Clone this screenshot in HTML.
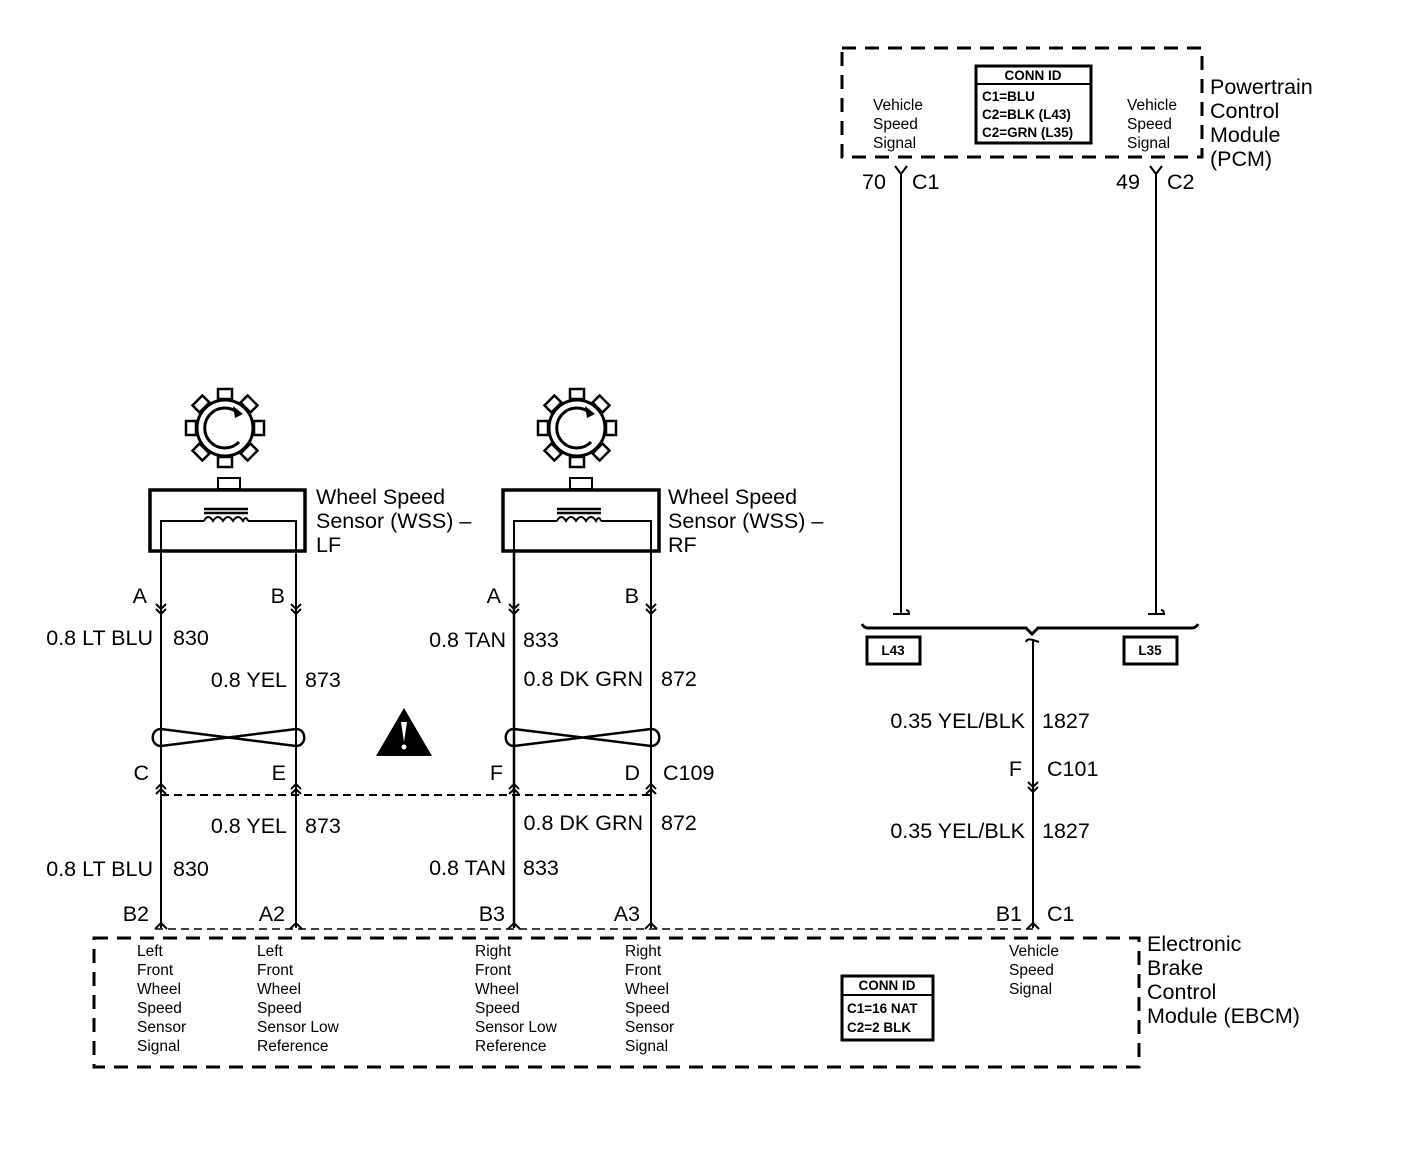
<!DOCTYPE html>
<html><head><style>
body{margin:0;background:#fff;}
svg{display:block;}
text{font-family:"Liberation Sans",Arial,sans-serif;fill:#000;}
.l{font-size:21.5px;}
.s{font-size:15.5px;}
.c{font-size:13.5px;font-weight:bold;}
</style></head><body>
<svg width="1408" height="1150" viewBox="0 0 1408 1150" xmlns="http://www.w3.org/2000/svg">
<defs>
<g id="gear">
  <circle cx="0" cy="0" r="28" fill="none" stroke="#000" stroke-width="3"/>
  <path d="M 14 -14 A 20 20 0 1 0 14 14" fill="none" stroke="#000" stroke-width="3"/>
  <path d="M8 -22 L18 -14 L10 -10 Z" fill="#000"/>
  <g fill="#fff" stroke="#000" stroke-width="2.5">
    <rect x="-7" y="-39" width="14" height="10"/>
    <rect x="-7" y="-39" width="14" height="10" transform="rotate(45)"/>
    <rect x="-7" y="-39" width="14" height="10" transform="rotate(90)"/>
    <rect x="-7" y="-39" width="14" height="10" transform="rotate(135)"/>
    <rect x="-7" y="-39" width="14" height="10" transform="rotate(180)"/>
    <rect x="-7" y="-39" width="14" height="10" transform="rotate(225)"/>
    <rect x="-7" y="-39" width="14" height="10" transform="rotate(270)"/>
    <rect x="-7" y="-39" width="14" height="10" transform="rotate(315)"/>
  </g>
</g>
<g id="coil" fill="none" stroke="#000" stroke-width="2">
  <path d="M-22 -10 H22 M-22 -6 H22" stroke-width="2.5"/>
  <path d="M-22 2 Q-18 -6 -13 2 Q-8 -6 -3 2 Q2 -6 7 2 Q12 -6 17 2 Q20 -4 22 2"/>
</g>
<path id="dn" d="M-5 -8 L0 -3 L5 -8 M-5 -3 L0 2 L5 -3" fill="none" stroke="#000" stroke-width="2"/>
<path id="up" d="M-5 4 L0 -1 L5 4 M-5 9 L0 4 L5 9" fill="none" stroke="#000" stroke-width="2"/>
<path id="up1" d="M-6 4 L0 -2 L6 4" fill="none" stroke="#000" stroke-width="2"/>
</defs>

<!-- PCM -->
<rect x="842" y="48" width="360" height="109" fill="none" stroke="#000" stroke-width="3" stroke-dasharray="14,9"/>
<rect x="976" y="66" width="115" height="77" fill="none" stroke="#000" stroke-width="3"/>
<line x1="976" y1="84" x2="1091" y2="84" stroke="#000" stroke-width="2"/>
<text class="c" x="1033" y="80" text-anchor="middle">CONN ID</text>
<text class="c" x="982" y="101">C1=BLU</text>
<text class="c" x="982" y="119">C2=BLK (L43)</text>
<text class="c" x="982" y="137">C2=GRN (L35)</text>
<text class="s" x="873" y="110">Vehicle</text><text class="s" x="873" y="129">Speed</text><text class="s" x="873" y="148">Signal</text>
<text class="s" x="1127" y="110">Vehicle</text><text class="s" x="1127" y="129">Speed</text><text class="s" x="1127" y="148">Signal</text>
<text class="l" x="1210" y="94">Powertrain</text><text class="l" x="1210" y="118">Control</text><text class="l" x="1210" y="142">Module</text><text class="l" x="1210" y="166">(PCM)</text>
<text class="l" x="862" y="189">70</text><text class="l" x="912" y="189">C1</text>
<text class="l" x="1116" y="189">49</text><text class="l" x="1167" y="189">C2</text>
<g stroke="#000" stroke-width="2" fill="none">
<path d="M895 166 L901 174 L907 166"/><path d="M1150 166 L1156 174 L1162 166"/>
<line x1="901" y1="174" x2="901" y2="614"/><line x1="1156" y1="174" x2="1156" y2="614"/>
<path d="M893 614 H909 Q909 610 906 610"/><path d="M1148 614 H1164 Q1164 610 1161 610"/>
<path d="M862 624 Q864 628 868 628 H1026 L1032 634 L1038 628 H1192 Q1196 628 1198 624" stroke-width="3"/>
<path d="M1026 642 Q1027 638 1033 640 L1039 642" /><line x1="1033" y1="640" x2="1033" y2="928"/>
</g>
<rect x="867" y="637" width="53" height="27" fill="none" stroke="#000" stroke-width="3"/>
<text class="c" x="893" y="655" text-anchor="middle">L43</text>
<rect x="1124" y="637" width="53" height="27" fill="none" stroke="#000" stroke-width="3"/>
<text class="c" x="1150" y="655" text-anchor="middle">L35</text>
<text class="l" x="1025" y="728" text-anchor="end">0.35 YEL/BLK</text><text class="l" x="1042" y="728">1827</text>
<text class="l" x="1022" y="776" text-anchor="end">F</text><text class="l" x="1047" y="776">C101</text>
<use href="#dn" x="1033" y="790"/>
<text class="l" x="1025" y="838" text-anchor="end">0.35 YEL/BLK</text><text class="l" x="1042" y="838">1827</text>
<text class="l" x="1022" y="921" text-anchor="end">B1</text><text class="l" x="1047" y="921">C1</text>

<!-- sensors -->
<use href="#gear" x="225" y="428"/>
<use href="#gear" x="577" y="428"/>
<g fill="none" stroke="#000">
<rect x="218" y="478" width="22" height="11" stroke-width="2"/>
<rect x="570" y="478" width="22" height="11" stroke-width="2"/>
<rect x="150" y="490" width="155" height="61" stroke-width="3.5"/>
<rect x="503" y="490" width="156" height="61" stroke-width="3.5"/>
<path d="M161 551 V521 H204 M248 521 H296 V551" stroke-width="2"/>
<path d="M514 551 V521 H557 M601 521 H651 V551" stroke-width="2"/>
</g>
<use href="#coil" x="226" y="519"/>
<use href="#coil" x="579" y="519"/>
<text class="l" x="316" y="504">Wheel Speed</text><text class="l" x="316" y="528">Sensor (WSS) –</text><text class="l" x="316" y="552">LF</text>
<text class="l" x="668" y="504">Wheel Speed</text><text class="l" x="668" y="528">Sensor (WSS) –</text><text class="l" x="668" y="552">RF</text>

<g stroke="#000" stroke-width="2">
<line x1="161" y1="551" x2="161" y2="928"/><line x1="296" y1="551" x2="296" y2="928"/>
<line x1="514" y1="551" x2="514" y2="928" stroke-width="2.5"/><line x1="651" y1="551" x2="651" y2="928"/>
</g>
<use href="#dn" x="161" y="612"/><use href="#dn" x="296" y="612"/><use href="#dn" x="514" y="612"/><use href="#dn" x="651" y="612"/>
<text class="l" x="147" y="603" text-anchor="end">A</text><text class="l" x="285" y="603" text-anchor="end">B</text>
<text class="l" x="501" y="603" text-anchor="end">A</text><text class="l" x="639" y="603" text-anchor="end">B</text>
<text class="l" x="153" y="645" text-anchor="end">0.8 LT BLU</text><text class="l" x="173" y="645">830</text>
<text class="l" x="287" y="687" text-anchor="end">0.8 YEL</text><text class="l" x="305" y="687">873</text>
<text class="l" x="506" y="647" text-anchor="end">0.8 TAN</text><text class="l" x="523" y="647">833</text>
<text class="l" x="643" y="686" text-anchor="end">0.8 DK GRN</text><text class="l" x="661" y="686">872</text>
<!-- twisted pair -->
<g fill="none" stroke="#000" stroke-width="2.5">
<path d="M161 729 C 150 729 150 746 161 746 L296 729 C 307 729 307 746 296 746 L161 729"/>
<path d="M514 729 C 503 729 503 746 514 746 L651 729 C 662 729 662 746 651 746 L514 729"/>
</g>
<path d="M404 708 L376 756 L432 756 Z" fill="#000"/>
<path d="M401 722 L407 722 L404 742 Z" fill="#fff"/><circle cx="404" cy="747" r="2.5" fill="#fff"/>
<text class="l" x="149" y="780" text-anchor="end">C</text><text class="l" x="286" y="780" text-anchor="end">E</text>
<text class="l" x="503" y="780" text-anchor="end">F</text><text class="l" x="640" y="780" text-anchor="end">D</text><text class="l" x="663" y="780">C109</text>
<use href="#up" x="161" y="785"/><use href="#up" x="296" y="785"/><use href="#up" x="514" y="785"/><use href="#up" x="651" y="785"/>
<line x1="161" y1="795" x2="651" y2="795" stroke="#000" stroke-width="2" stroke-dasharray="8,5"/>
<text class="l" x="287" y="833" text-anchor="end">0.8 YEL</text><text class="l" x="305" y="833">873</text>
<text class="l" x="643" y="830" text-anchor="end">0.8 DK GRN</text><text class="l" x="661" y="830">872</text>
<text class="l" x="153" y="876" text-anchor="end">0.8 LT BLU</text><text class="l" x="173" y="876">830</text>
<text class="l" x="506" y="875" text-anchor="end">0.8 TAN</text><text class="l" x="523" y="875">833</text>
<text class="l" x="149" y="921" text-anchor="end">B2</text><text class="l" x="285" y="921" text-anchor="end">A2</text>
<text class="l" x="505" y="921" text-anchor="end">B3</text><text class="l" x="640" y="921" text-anchor="end">A3</text>
<use href="#up1" x="161" y="925"/><use href="#up1" x="296" y="925"/><use href="#up1" x="514" y="925"/><use href="#up1" x="651" y="925"/><use href="#up1" x="1033" y="925"/>
<line x1="155" y1="929" x2="1033" y2="929" stroke="#000" stroke-width="1.5" stroke-dasharray="8,5"/>

<!-- EBCM -->
<rect x="94" y="938" width="1045" height="129" fill="none" stroke="#000" stroke-width="3" stroke-dasharray="14,9"/>
<g>
<text class="s" x="137" y="956">Left</text><text class="s" x="137" y="975">Front</text><text class="s" x="137" y="994">Wheel</text><text class="s" x="137" y="1013">Speed</text><text class="s" x="137" y="1032">Sensor</text><text class="s" x="137" y="1051">Signal</text>
<text class="s" x="257" y="956">Left</text><text class="s" x="257" y="975">Front</text><text class="s" x="257" y="994">Wheel</text><text class="s" x="257" y="1013">Speed</text><text class="s" x="257" y="1032">Sensor Low</text><text class="s" x="257" y="1051">Reference</text>
<text class="s" x="475" y="956">Right</text><text class="s" x="475" y="975">Front</text><text class="s" x="475" y="994">Wheel</text><text class="s" x="475" y="1013">Speed</text><text class="s" x="475" y="1032">Sensor Low</text><text class="s" x="475" y="1051">Reference</text>
<text class="s" x="625" y="956">Right</text><text class="s" x="625" y="975">Front</text><text class="s" x="625" y="994">Wheel</text><text class="s" x="625" y="1013">Speed</text><text class="s" x="625" y="1032">Sensor</text><text class="s" x="625" y="1051">Signal</text>
<text class="s" x="1009" y="956">Vehicle</text><text class="s" x="1009" y="975">Speed</text><text class="s" x="1009" y="994">Signal</text>
</g>
<rect x="842" y="976" width="91" height="64" fill="none" stroke="#000" stroke-width="3"/>
<line x1="842" y1="995" x2="933" y2="995" stroke="#000" stroke-width="2"/>
<text class="c" x="887" y="990" text-anchor="middle">CONN ID</text>
<text class="c" x="847" y="1013">C1=16 NAT</text>
<text class="c" x="847" y="1032">C2=2 BLK</text>
<text class="l" x="1147" y="951">Electronic</text><text class="l" x="1147" y="975">Brake</text><text class="l" x="1147" y="999">Control</text><text class="l" x="1147" y="1023">Module (EBCM)</text>
</svg>
</body></html>
